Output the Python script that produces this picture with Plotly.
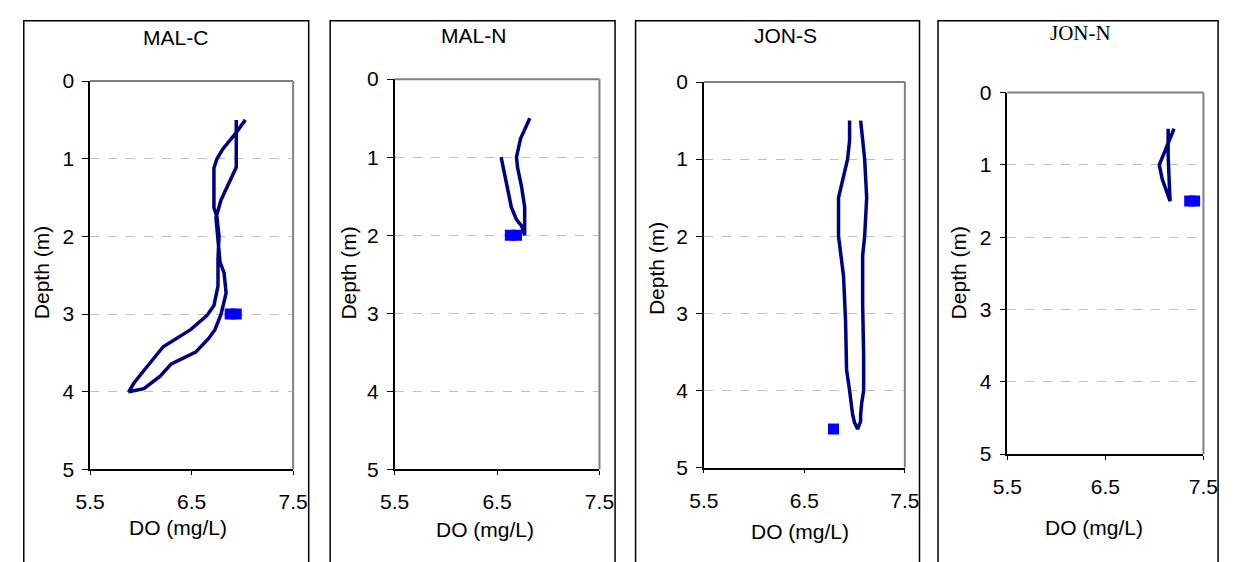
import plotly.graph_objects as go

# ---------------- data ----------------
sites = ["MAL-C", "MAL-N", "JON-S", "JON-N"]

# continuous DO profiles (down-cast and up-cast), DO in mg/L, depth in m
malc_do = [7.03, 6.93, 6.81, 6.75, 6.72, 6.72, 6.75, 6.77, 6.76, 6.76, 6.72, 6.65, 6.49, 6.22, 6.04, 5.93, 5.88,
           6.03, 6.19, 6.30, 6.54, 6.67, 6.73, 6.79, 6.84, 6.82, 6.78, 6.77, 6.76, 6.74, 6.79, 6.94, 6.94]
malc_depth = [0.5, 0.68, 0.87, 1.0, 1.12, 1.63, 1.75, 2.0, 2.3, 2.64, 2.89, 3.02, 3.2, 3.42, 3.71, 3.89, 4.0,
              3.96, 3.8, 3.64, 3.49, 3.31, 3.2, 3.0, 2.73, 2.47, 2.33, 2.16, 2.0, 1.76, 1.53, 1.11, 0.5]

maln_do = [6.54, 6.59, 6.64, 6.69, 6.74, 6.77, 6.77, 6.74, 6.70, 6.69, 6.73, 6.82]
maln_depth = [1.0, 1.33, 1.64, 1.80, 1.88, 2.0, 1.64, 1.38, 1.13, 1.0, 0.76, 0.5]

jons_do = [6.95, 6.95, 6.93, 6.84, 6.84, 6.89, 6.91, 6.92, 6.95, 6.98, 7.00, 7.03,
           7.06, 7.06, 7.07, 7.09, 7.09, 7.08, 7.08, 7.10, 7.12, 7.10, 7.06]
jons_depth = [0.5, 0.76, 1.0, 1.5, 2.0, 2.52, 3.1, 3.73, 4.0, 4.31, 4.42, 4.5,
              4.40, 4.31, 4.17, 4.0, 3.55, 2.88, 2.25, 2.0, 1.5, 1.0, 0.5]

jonn_do = [7.20, 7.10, 7.05, 7.08, 7.13, 7.16, 7.15, 7.14, 7.14]
jonn_depth = [0.5, 0.82, 1.0, 1.2, 1.39, 1.5, 1.2, 0.87, 0.5]

# discrete samples
malc_pt_do, malc_pt_depth = [6.88, 6.94], [3.0, 3.0]
maln_pt_do, maln_pt_depth = [6.63, 6.69], [2.0, 2.0]
jons_pt_do, jons_pt_depth = [6.79], [4.5]
jonn_pt_do, jonn_pt_depth = [7.36, 7.41], [1.5, 1.5]

x_ticks = [5.5, 6.5, 7.5]
y_ticks = [0, 1, 2, 3, 4, 5]
x_title = "DO (mg/L)"
y_title = "Depth (m)"

profiles = [(malc_do, malc_depth), (maln_do, maln_depth), (jons_do, jons_depth), (jonn_do, jonn_depth)]
points = [(malc_pt_do, malc_pt_depth), (maln_pt_do, maln_pt_depth),
          (jons_pt_do, jons_pt_depth), (jonn_pt_do, jonn_pt_depth)]

# ---------------- layout geometry (pixels) ----------------
W, H = 1236, 562
def fx(x): return x / W
def fy(y): return 1 - y / H

panels = [
    dict(plot=(77, 72, 285, 477), box=(9, 9, 301), title=(164, 27), xt=(167, 537), yt=(28, 272), serif=False),
    dict(plot=(389, 70, 599, 477), box=(323, 9, 615), title=(470, 24), xt=(482, 540), yt=(342, 272), serif=False),
    dict(plot=(706, 73, 912, 475), box=(636, 9, 927), title=(790, 24), xt=(805, 542), yt=(657, 268), serif=False),
    dict(plot=(1017, 84, 1218, 461), box=(946, 9, 1233), title=(1092, 22), xt=(1106, 537), yt=(967, 272), serif=True),
]

SANS = "Liberation Sans, Arial, sans-serif"
SERIF = "Liberation Serif, Times New Roman, serif"
NAVY = "#000080"
BLUE = "#0000FF"
FS = 21

fig = go.Figure()
layout = dict(
    width=W, height=H, margin=dict(l=0, r=0, t=0, b=0), autosize=False,
    paper_bgcolor="white", plot_bgcolor="white", showlegend=False,
    font=dict(family=SANS, size=FS, color="black"),
)
shapes, annotations = [], []

for i, (p, (xd, yd), (pxd, pyd), name) in enumerate(zip(panels, profiles, points, sites), start=1):
    sfx = "" if i == 1 else str(i)
    x0, y0, x1, y1 = p["plot"]
    fig.add_trace(go.Scatter(x=xd, y=yd, mode="lines", line=dict(color=NAVY, width=3.5),
                             xaxis="x" + sfx, yaxis="y" + sfx, hoverinfo="skip"))
    fig.add_trace(go.Scatter(x=pxd, y=pyd, mode="markers",
                             marker=dict(symbol="square", size=11, color=BLUE),
                             xaxis="x" + sfx, yaxis="y" + sfx, hoverinfo="skip"))
    layout["xaxis" + sfx] = dict(
        domain=[fx(x0), fx(x1)], range=[5.5, 7.5], anchor="y" + sfx,
        tickvals=x_ticks, ticktext=[str(v) for v in x_ticks],
        showline=True, linecolor="black", linewidth=1.5, mirror=False,
        ticks="outside", ticklen=4, tickcolor="black", showgrid=False, zeroline=False,
        ticklabelstandoff=9, tickfont=dict(size=FS, family=SANS),
    )
    layout["yaxis" + sfx] = dict(
        domain=[fy(y1), fy(y0)], range=[5, 0], anchor="x" + sfx,
        tickvals=y_ticks, ticktext=[str(v) for v in y_ticks],
        showline=True, linecolor="black", linewidth=1.5, mirror=False,
        ticks="outside", ticklen=6, tickcolor="black",
        showgrid=True, gridcolor="#C0C0C0", griddash="dash", gridwidth=1, zeroline=False,
        ticklabelstandoff=4, tickfont=dict(size=FS, family=SANS),
    )
    # grey top/right plot-area border
    shapes.append(dict(type="line", xref="paper", yref="paper", x0=fx(x0), x1=fx(x1), y0=fy(y0), y1=fy(y0),
                       line=dict(color="#808080", width=2)))
    shapes.append(dict(type="line", xref="paper", yref="paper", x0=fx(x1), x1=fx(x1), y0=fy(y0), y1=fy(y1),
                       line=dict(color="#808080", width=2)))
    # outer chart box
    bl, bt, br = p["box"]
    shapes.append(dict(type="rect", xref="paper", yref="paper", x0=fx(bl), x1=fx(br), y0=fy(bt), y1=fy(H + 20),
                       line=dict(color="black", width=1.5), layer="above"))
    tx, ty = p["title"]
    annotations.append(dict(text=name, x=fx(tx), y=fy(ty), xref="paper", yref="paper", showarrow=False,
                            xanchor="center", yanchor="middle",
                            font=dict(family=SERIF if p["serif"] else SANS, size=FS)))
    ax, ay = p["xt"]
    annotations.append(dict(text=x_title, x=fx(ax), y=fy(ay), xref="paper", yref="paper", showarrow=False,
                            xanchor="center", yanchor="middle", font=dict(size=FS)))
    yx, yy = p["yt"]
    annotations.append(dict(text=y_title, x=fx(yx), y=fy(yy), xref="paper", yref="paper", showarrow=False,
                            xanchor="center", yanchor="middle", textangle=-90, font=dict(size=FS)))

layout["shapes"] = shapes
layout["annotations"] = annotations
fig.update_layout(**layout)
fig.write_html(
    "out.html",
    config={"responsive": False, "displayModeBar": False},
    post_script="document.body.style.margin='0';document.body.style.padding='0';"
                "document.documentElement.style.overflow='hidden';",
)
